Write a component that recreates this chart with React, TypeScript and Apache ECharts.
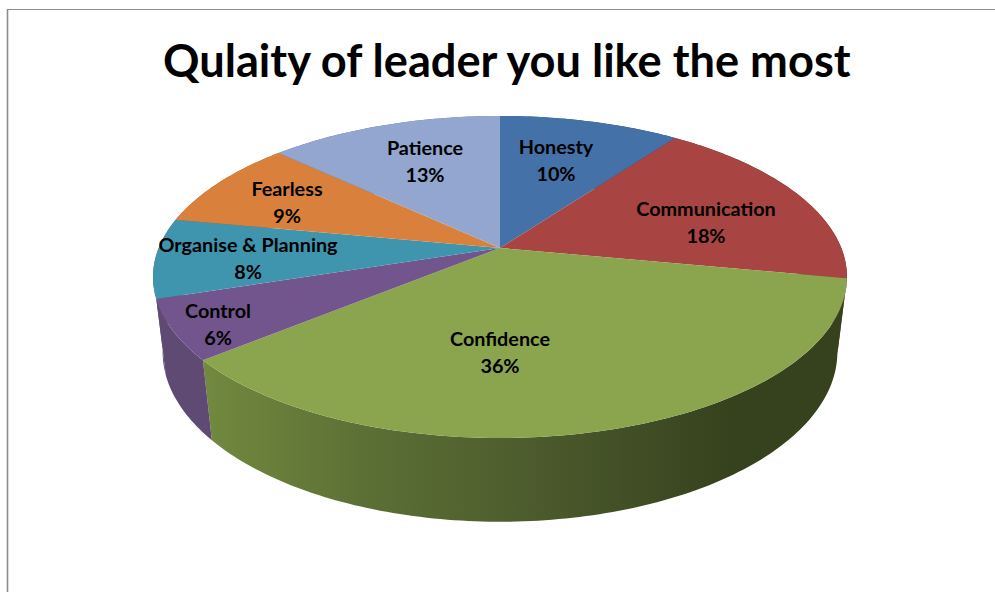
import React, { useEffect, useRef } from "react";
import * as echarts from "echarts";

const titleText = "Qulaity of leader you like the most";
const categories = ["Honesty", "Communication", "Confidence", "Control", "Organise & Planning", "Fearless", "Patience"];
const values = [10, 18, 36, 6, 8, 9, 13];
const topColors = ["#4471a8", "#a84442", "#8ba54e", "#72558c", "#3f95ae", "#d9813c", "#92a6d0"];
const sideColors = ["#2e4c72", "#72302e", "#8ba54e", "#5f4a73", "#5f4a73", "#96592a", "#65738f"];
const labelCenters = [
  [556, 159],
  [706, 221],
  [500, 351],
  [218, 323],
  [248, 257],
  [287, 201],
  [425, 160],
];

// Projective model of the tilted disc
const cx = 500;
const cy = 248;
const A = 341.3;
const B = 155.8;
const P = 0.18;
const Q = 0.0275;
const D = 83;

const total = values.reduce((a, b) => a + b, 0);
const startFrac = values.map((_, i) => values.slice(0, i).reduce((a, b) => a + b, 0) / total);

function rim(frac: number, bottom: boolean): number[] {
  const a = frac * Math.PI * 2;
  const u = Math.sin(a);
  const v = -Math.cos(a);
  if (!bottom) {
    const w = 1 - P * v;
    return [cx + (A * u) / w, cy + (B * v) / w];
  }
  const w = 1 - P * v + Q;
  return [cx + (A * u) / w, (cy * (1 - P * v) + B * v + D) / w];
}

function arc(i: number, bottom: boolean): number[][] {
  const f0 = startFrac[i];
  const f1 = f0 + values[i] / total;
  const n = Math.max(8, Math.ceil((f1 - f0) * 360));
  const pts: number[][] = [];
  for (let k = 0; k <= n; k++) pts.push(rim(f0 + ((f1 - f0) * k) / n, bottom));
  return pts;
}

const sideFill = (i: number): any => {
  if (i === 2) {
    return new echarts.graphic.LinearGradient(0, 0, 1, 0, [
      { offset: 0, color: "#72893f" },
      { offset: 0.25, color: "#5c7035" },
      { offset: 0.5, color: "#4d5c2d" },
      { offset: 0.72, color: "#3d4a23" },
      { offset: 0.82, color: "#36411d" },
      { offset: 1, color: "#36411d" },
    ]);
  }
  return sideColors[i];
};

const seriesData = values.map((v, i) => ({ name: categories[i], value: v }));

export default function App() {
  const ref = useRef<HTMLDivElement>(null);
  useEffect(() => {
    const chart = echarts.init(ref.current!, undefined, { renderer: "svg" });
    chart.setOption({
      animation: false,
      backgroundColor: "#ffffff",
      title: {
        text: titleText,
        left: 158,
        top: 32,
        textStyle: { fontFamily: "Lato", fontWeight: "bold", fontSize: 45.2, color: "#000000" },
      },
      graphic: [
        { type: "line", shape: { x1: 7.5, y1: 9.5, x2: 995, y2: 9.5 }, style: { stroke: "#8c8c8c", lineWidth: 1.2 } },
        { type: "line", shape: { x1: 7.5, y1: 9, x2: 7.5, y2: 592 }, style: { stroke: "#8c8c8c", lineWidth: 1.6 } },
      ],
      series: [
        {
          type: "custom",
          coordinateSystem: "none",
          z: 2,
          data: seriesData,
          renderItem: (params: any) => ({
            type: "polygon",
            shape: { points: [...arc(params.dataIndex, false), ...arc(params.dataIndex, true).reverse()] },
            style: { fill: sideFill(params.dataIndex) },
          }),
        },
        {
          type: "custom",
          coordinateSystem: "none",
          z: 3,
          data: seriesData,
          renderItem: (params: any) => ({
            type: "polygon",
            shape: { points: [[cx, cy], ...arc(params.dataIndex, false)] },
            style: { fill: topColors[params.dataIndex] },
          }),
        },
        {
          type: "custom",
          coordinateSystem: "none",
          z: 4,
          data: seriesData,
          renderItem: (params: any) => {
            const i = params.dataIndex;
            return {
              type: "text",
              x: labelCenters[i][0],
              y: labelCenters[i][1],
              style: {
                text: `${categories[i]}\n${Math.round((values[i] / total) * 100)}%`,
                align: "center",
                verticalAlign: "middle",
                fontFamily: "Lato",
                fontWeight: "bold",
                fontSize: 19.8,
                lineHeight: 27,
                fill: "#000000",
              },
            };
          },
        },
      ],
    });
    return () => chart.dispose();
  }, []);
  return <div ref={ref} style={{ position: "absolute", left: 0, top: 0, width: 995, height: 592 }} />;
}
